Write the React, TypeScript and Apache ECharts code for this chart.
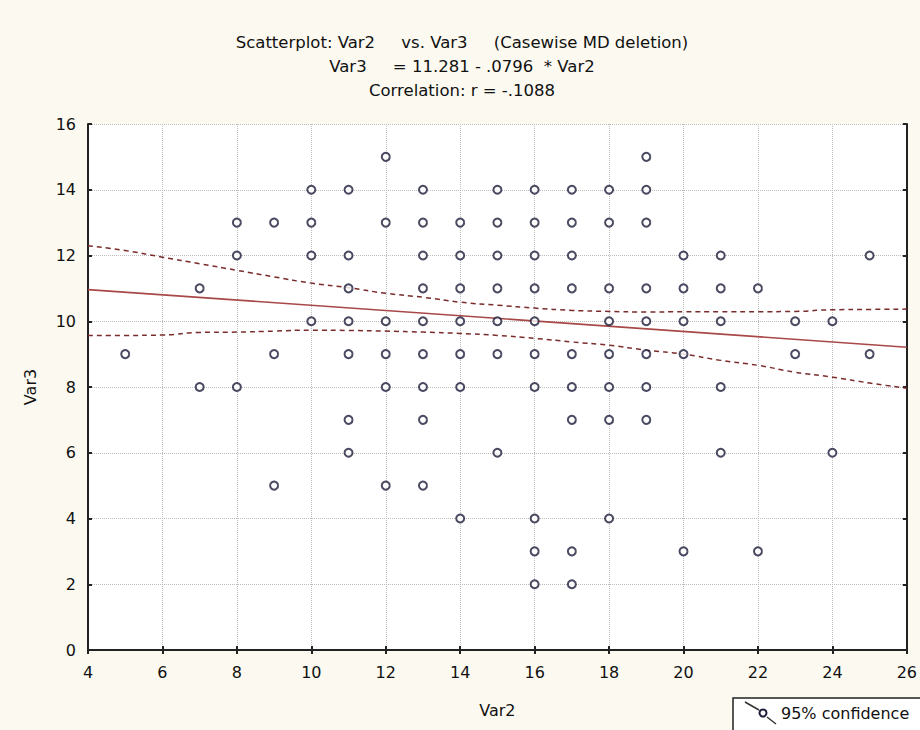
import React, { useEffect, useRef } from "react";
import * as echarts from "echarts";

// Scatter data (Var2, Var3)
const var2: number[] = [
  5,
  7, 7,
  8, 8, 8,
  9, 9, 9,
  10, 10, 10, 10,
  11, 11, 11, 11, 11, 11, 11,
  12, 12, 12, 12, 12, 12,
  13, 13, 13, 13, 13, 13, 13, 13, 13,
  14, 14, 14, 14, 14, 14, 14,
  15, 15, 15, 15, 15, 15, 15,
  16, 16, 16, 16, 16, 16, 16, 16, 16, 16,
  17, 17, 17, 17, 17, 17, 17, 17, 17,
  18, 18, 18, 18, 18, 18, 18, 18,
  19, 19, 19, 19, 19, 19, 19, 19,
  20, 20, 20, 20, 20,
  21, 21, 21, 21, 21,
  22, 22,
  23, 23,
  24, 24,
  25, 25,
];
const var3: number[] = [
  9,
  11, 8,
  13, 12, 8,
  13, 9, 5,
  14, 13, 12, 10,
  14, 12, 11, 10, 9, 7, 6,
  15, 13, 10, 9, 8, 5,
  14, 13, 12, 11, 10, 9, 8, 7, 5,
  13, 12, 11, 10, 9, 8, 4,
  14, 13, 12, 11, 10, 9, 6,
  14, 13, 12, 11, 10, 9, 8, 4, 3, 2,
  14, 13, 12, 11, 9, 8, 7, 3, 2,
  14, 13, 11, 10, 9, 8, 7, 4,
  15, 14, 13, 11, 10, 9, 8, 7,
  12, 11, 10, 9, 3,
  12, 11, 10, 8, 6,
  11, 3,
  10, 9,
  10, 6,
  12, 9,
];

// Regression (from the title)
const intercept = 11.281;
const slope = -0.0796;
const fitX: number[] = [4, 26];

// 95% confidence band
const bandX: number[] = [4, 5, 6, 7, 8, 9, 10, 11, 12, 13, 14, 15, 16, 17, 18, 19, 20, 21, 22, 23, 24, 25, 26];
const bandUpper: number[] = [12.3, 12.15, 11.95, 11.75, 11.55, 11.35, 11.16, 11.02, 10.85, 10.73, 10.58, 10.49, 10.4, 10.33, 10.3, 10.28, 10.29, 10.29, 10.29, 10.3, 10.35, 10.36, 10.37];
const bandLower: number[] = [9.57, 9.57, 9.58, 9.66, 9.67, 9.7, 9.73, 9.72, 9.7, 9.67, 9.63, 9.57, 9.48, 9.37, 9.27, 9.12, 9.0, 8.81, 8.66, 8.45, 8.3, 8.12, 7.96];

const titleLines: string[] = [
  "Scatterplot: Var2     vs. Var3     (Casewise MD deletion)",
  "Var3     = 11.281 - .0796  * Var2",
  "Correlation: r = -.1088",
];
const legendLabel = "95% confidence";

const FONT = "DejaVu Sans";

export default function App() {
  const ref = useRef<HTMLDivElement>(null);
  useEffect(() => {
    document.body.style.margin = "0";
    if (!ref.current) return;
    const chart = echarts.init(ref.current, undefined, { renderer: "svg" });
    const points = var2.map((x, i) => [x, var3[i]]);
    const fit = fitX.map((x) => [x, intercept + slope * x]);
    const upper = bandX.map((x, i) => [x, bandUpper[i]]);
    const lower = bandX.map((x, i) => [x, bandLower[i]]);
    const axisLine = { show: true, lineStyle: { color: "#222", width: 2 } };
    const axisTick = { show: true, inside: true, length: 4, lineStyle: { color: "#222", width: 2 } };
    const split = { show: true, lineStyle: { type: "dotted" as const, color: "#bdbdbd", width: 1 } };
    chart.setOption({
      animation: false,
      backgroundColor: "#fbf9f0",
      textStyle: { fontFamily: FONT },
      grid: { left: 88, right: 12, top: 124, bottom: 80, show: true, backgroundColor: "#ffffff", borderWidth: 0 },
      xAxis: [
        {
          type: "value", min: 4, max: 26, interval: 2, position: "bottom",
          axisLine, axisTick,
          axisLabel: { fontSize: 16, color: "#111", margin: 14, fontFamily: FONT },
          splitLine: split,
          name: "Var2", nameLocation: "middle", nameGap: 52,
          nameTextStyle: { fontSize: 16, color: "#111", fontFamily: FONT },
        },
        {
          type: "value", min: 4, max: 26, interval: 2, position: "top",
          axisLine, axisTick, axisLabel: { show: false }, splitLine: { show: false },
        },
      ],
      yAxis: [
        {
          type: "value", min: 0, max: 16, interval: 2, position: "left",
          axisLine, axisTick,
          axisLabel: { fontSize: 16, color: "#111", margin: 12, fontFamily: FONT },
          splitLine: split,
          name: "Var3", nameLocation: "middle", nameGap: 50,
          nameTextStyle: { fontSize: 16, color: "#111", fontFamily: FONT },
        },
        {
          type: "value", min: 0, max: 16, interval: 2, position: "right",
          axisLine, axisTick, axisLabel: { show: false }, splitLine: { show: false },
        },
      ],
      series: [
        {
          type: "line", data: upper, smooth: true, symbol: "none", z: 2,
          lineStyle: { color: "#7a2c2c", width: 1.5, type: [5, 4] },
        },
        {
          type: "line", data: lower, smooth: true, symbol: "none", z: 2,
          lineStyle: { color: "#7a2c2c", width: 1.5, type: [5, 4] },
        },
        {
          type: "line", data: fit, symbol: "none", z: 3,
          lineStyle: { color: "#a84848", width: 1.6 },
        },
        {
          type: "scatter", data: points, symbol: "emptyCircle", symbolSize: 8, z: 4,
          itemStyle: { color: "#1c1c3a", borderWidth: 2 },
        },
      ],
      graphic: [
        ...titleLines.map((t, i) => ({
          type: "text", x: 462, y: [42, 66, 90][i],
          style: { text: t, fontSize: 16.5, fontFamily: FONT, fill: "#111", align: "center", verticalAlign: "middle" },
        })),
        {
          type: "rect", shape: { x: 733, y: 698, width: 200, height: 40 },
          style: { fill: "#ffffff", stroke: "#222", lineWidth: 1.5 },
        },
        { type: "line", shape: { x1: 745, y1: 702, x2: 759, y2: 710 }, style: { stroke: "#333", lineWidth: 1.5 } },
        { type: "circle", shape: { cx: 763, cy: 713, r: 3.5 }, style: { fill: "#fff", stroke: "#1c1c3a", lineWidth: 2 } },
        { type: "line", shape: { x1: 767, y1: 717, x2: 776, y2: 724 }, style: { stroke: "#333", lineWidth: 1.5 } },
        {
          type: "text", x: 781, y: 713,
          style: { text: legendLabel, fontSize: 16, fontFamily: FONT, fill: "#111", verticalAlign: "middle" },
        },
      ],
    });
    return () => chart.dispose();
  }, []);
  return <div ref={ref} style={{ width: 920, height: 730 }} />;
}
